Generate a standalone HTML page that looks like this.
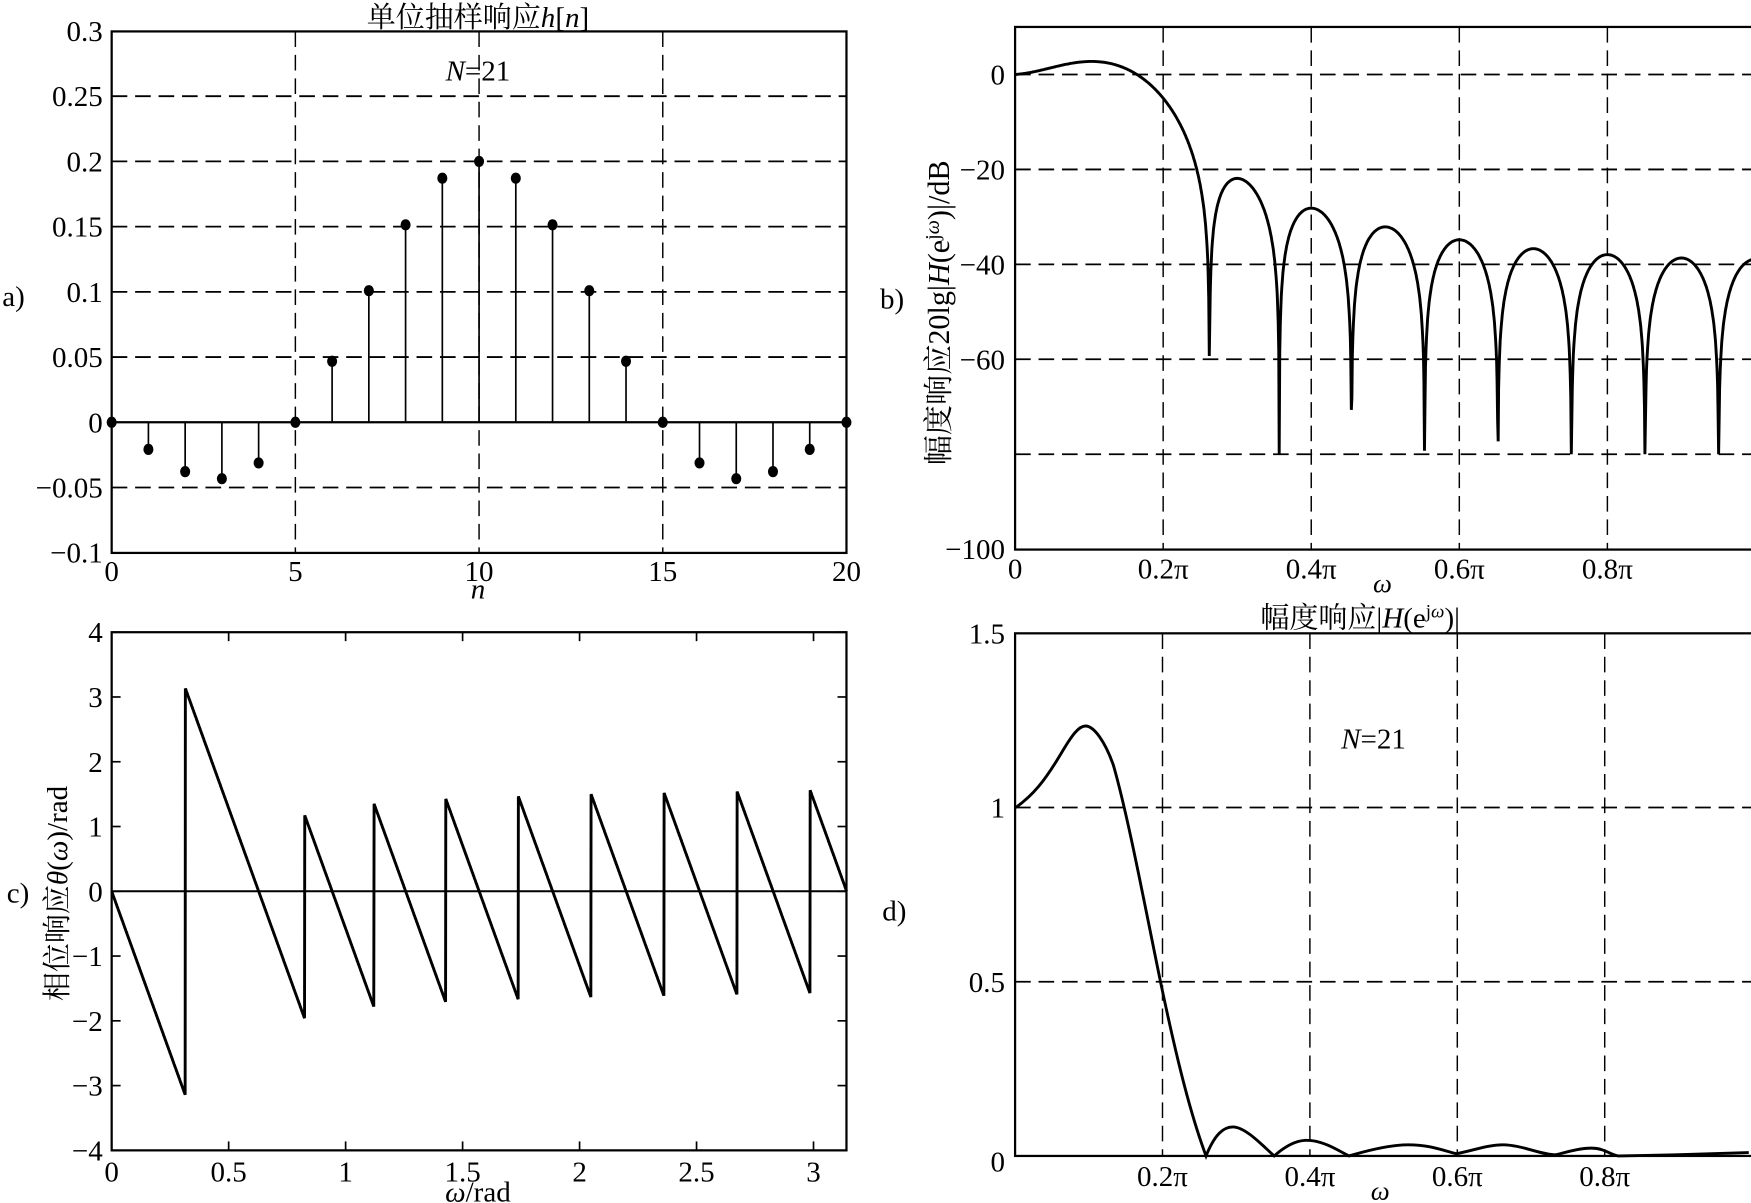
<!DOCTYPE html>
<html><head><meta charset="utf-8"><style>
html,body{margin:0;padding:0;background:#fff;}
svg{display:block;}
text{font-family:"Liberation Serif","Noto Serif CJK SC","Noto Sans CJK SC",serif;fill:#000;}
</style></head><body>
<svg id="s" width="1751" height="1203" viewBox="0 0 1568 1077" xmlns="http://www.w3.org/2000/svg">
<g id="g" font-size="24"></g>
</svg>
<script>
const NS="http://www.w3.org/2000/svg",G=document.getElementById('g');
function el(t,a,txt){const e=document.createElementNS(NS,t);for(const k in a)e.setAttribute(k,a[k]);if(txt!==undefined)e.textContent=txt;G.appendChild(e);return e;}
function line(x1,y1,x2,y2,w,d){el('line',{x1,y1,x2,y2,stroke:'#000','stroke-width':w||1.3,'stroke-dasharray':d||'none'});}
function txt(x,y,s,anchor,extra){const a=Object.assign({x,y,'text-anchor':anchor||'middle'},extra||{});return el('text',a,s);}
const DASH='14,7',FS=26;
const h=[];for(let n=0;n<21;n++){const k=n-10;h.push(k==0?0.2:Math.sin(0.2*Math.PI*k)/(Math.PI*k));}
function H(w){let re=0,im=0;for(let n=0;n<21;n++){re+=h[n]*Math.cos(w*n);im-=h[n]*Math.sin(w*n);}return [re,im];}
// a)
{const X=n=>100+n*32.9,Y=v=>378-v*1168;
el('rect',{x:100,y:28,width:658,height:467,fill:'none',stroke:'#000','stroke-width':2});
[0.25,0.2,0.15,0.1,0.05,-0.05].forEach(v=>line(100,Y(v),758,Y(v),1.6,DASH));
[5,10,15].forEach(n=>line(X(n),28,X(n),495,1.3,DASH));
line(100,378,758,378,2);
for(let n=0;n<21;n++){line(X(n),378,X(n),Y(h[n]),1.5);el('ellipse',{cx:X(n),cy:Y(h[n]),rx:4.5,ry:5,fill:'#000'});}
['0.3','0.25','0.2','0.15','0.1','0.05','0','\u22120.05','\u22120.1'].forEach((s,i)=>txt(92,Y(0.3-i*0.05)+9,s,'end',{'font-size':FS}));
[0,5,10,15,20].forEach(n=>txt(X(n),520,n,'middle',{'font-size':FS}));
txt(428,536,'n','middle',{'font-style':'italic','font-size':FS});
const t=txt(428,24,'','middle',{'font-size':FS});t.innerHTML='单位抽样响应<tspan font-style="italic">h</tspan>[<tspan font-style="italic">n</tspan>]';
const t2=txt(428,72,'','middle',{'font-size':FS});t2.innerHTML='<tspan font-style="italic">N</tspan>=21';
txt(2,274,'a)','start',{'font-size':FS});}
// b)
{const X=w=>909+w*663,Y=d=>66.6-d*4.25;
el('rect',{x:909,y:24,width:670,height:468,fill:'none',stroke:'#000','stroke-width':2});
[0,-20,-40,-60,-80].forEach(v=>line(909,Y(v),1568,Y(v),1.6,DASH));
[0.2,0.4,0.6,0.8].forEach(v=>line(X(v),24,X(v),492,1.3,DASH));
const H0=Math.hypot(...H(0));let p='';
for(let i=0;i<=1400;i++){const w=i/1400*0.995;const m=Math.hypot(...H(w*Math.PI))/H0;let d=20*Math.log10(Math.max(m,1e-9))+(w<0.25?0.96*Math.sin(Math.PI*w/0.25):0);if(d<-80)d=-80;p+=(i?'L':'M')+X(w).toFixed(1)+','+Y(d).toFixed(1);}
el('path',{d:p,fill:'none',stroke:'#000','stroke-width':2.6});
[['0',0],['\u221220',-20],['\u221240',-40],['\u221260',-60],['\u2212100',-100]].forEach(([s,v])=>txt(900,Y(v)+9,s,'end',{'font-size':FS}));
[['0',0],['0.2\u03c0',0.2],['0.4\u03c0',0.4],['0.6\u03c0',0.6],['0.8\u03c0',0.8]].forEach(([s,v])=>txt(X(v),518,s,'middle',{'font-size':FS}));
txt(1238,530,'\u03c9','middle',{'font-style':'italic','font-size':24});
const t=txt(0,0,'','middle',{'font-size':27,transform:'translate(850,280) rotate(-90)'});
t.innerHTML='幅度响应20lg|<tspan font-style="italic">H</tspan>(e<tspan font-size="18" dy="-9">j<tspan font-style="italic">ω</tspan></tspan><tspan dy="9">)|/dB</tspan>';
txt(788,276,'b)','start',{'font-size':FS});}
// c)
{const X=w=>100+w*209.5,Y=v=>798-v*58;
el('rect',{x:100,y:566,width:658,height:464,fill:'none',stroke:'#000','stroke-width':2});
for(let v=-4;v<=4;v++){line(100,Y(v),108,Y(v),1.5);line(750,Y(v),758,Y(v),1.5);}
[0.5,1,1.5,2,2.5,3].forEach(w=>{line(X(w),566,X(w),574,1.5);line(X(w),1022,X(w),1030,1.5);});
line(100,798,758,798,1.8);
let p='';
for(let i=0;i<=3000;i++){const w=i/3000*Math.PI;const [re,im]=H(w);let ph=Math.atan2(im,re);if(i==0)ph=0;p+=(i?'L':'M')+X(w).toFixed(1)+','+Y(ph).toFixed(1);}
el('path',{d:p,fill:'none',stroke:'#000','stroke-width':2.6});
for(let v=-4;v<=4;v++)txt(92,Y(v)+9,v<0?'\u2212'+(-v):String(v),'end',{'font-size':FS});
[0,0.5,1,1.5,2,2.5,3].forEach(w=>txt(X(w),1058,String(w),'middle',{'font-size':FS}));
const tx=txt(428,1076,'','middle',{'font-size':FS});tx.innerHTML='<tspan font-style="italic">ω</tspan>/rad';
const t=txt(0,0,'','middle',{'font-size':FS,transform:'translate(60,800) rotate(-90)'});
t.innerHTML='相位响应<tspan font-style="italic">θ</tspan>(<tspan font-style="italic">ω</tspan>)/rad';
txt(6,808,'c)','start',{'font-size':FS});}
// d)
{const X=w=>909+w*660,Y=v=>1035-v*312;
el('rect',{x:909,y:567,width:670,height:468,fill:'none',stroke:'#000','stroke-width':2});
[1,0.5].forEach(v=>line(909,Y(v),1568,Y(v),1.6,DASH));
[0.2,0.4,0.6,0.8].forEach(v=>line(X(v),567,X(v),1035,1.3,DASH));
el('path',{d:'M909.6,723 C925,712 935,700 950,675 C960,658 966,650 972,650 C980,650 990,665 997,685 C1010,730 1025,810 1039,878 C1052,940 1065,995 1080,1035 C1088,1015 1096,1009 1104,1009 C1115,1009 1130,1025 1141,1035 C1150,1027 1160,1021 1170,1021 C1185,1021 1198,1030 1208,1035 C1225,1030 1245,1025 1261,1025 C1280,1025 1292,1030 1304,1033 C1320,1030 1332,1025 1346,1025 C1362,1025 1380,1034 1393,1034 C1405,1031 1415,1028 1425,1028 C1438,1028 1443,1035 1450,1035 L1500,1034 L1566,1032',fill:'none',stroke:'#000','stroke-width':2.6});
[['1.5',1.5],['1',1],['0.5',0.5],['0',0]].forEach(([s,v])=>txt(900,Y(v)+(v==0?14:9),s,'end',{'font-size':FS}));
[['0.2\u03c0',0.2],['0.4\u03c0',0.4],['0.6\u03c0',0.6],['0.8\u03c0',0.8]].forEach(([s,v])=>txt(X(v),1062,s,'middle',{'font-size':FS}));
txt(1236,1074,'\u03c9','middle',{'font-style':'italic','font-size':24});
const t=txt(1218,562,'','middle',{'font-size':FS});
t.innerHTML='幅度响应|<tspan font-style="italic">H</tspan>(e<tspan font-size="17" dy="-9">j<tspan font-style="italic">ω</tspan></tspan><tspan dy="9">)|</tspan>';
const t2=txt(1230,670,'','middle',{'font-size':FS});t2.innerHTML='<tspan font-style="italic">N</tspan>=21';
txt(790,824,'d)','start',{'font-size':FS});}
</script>
</body></html>
